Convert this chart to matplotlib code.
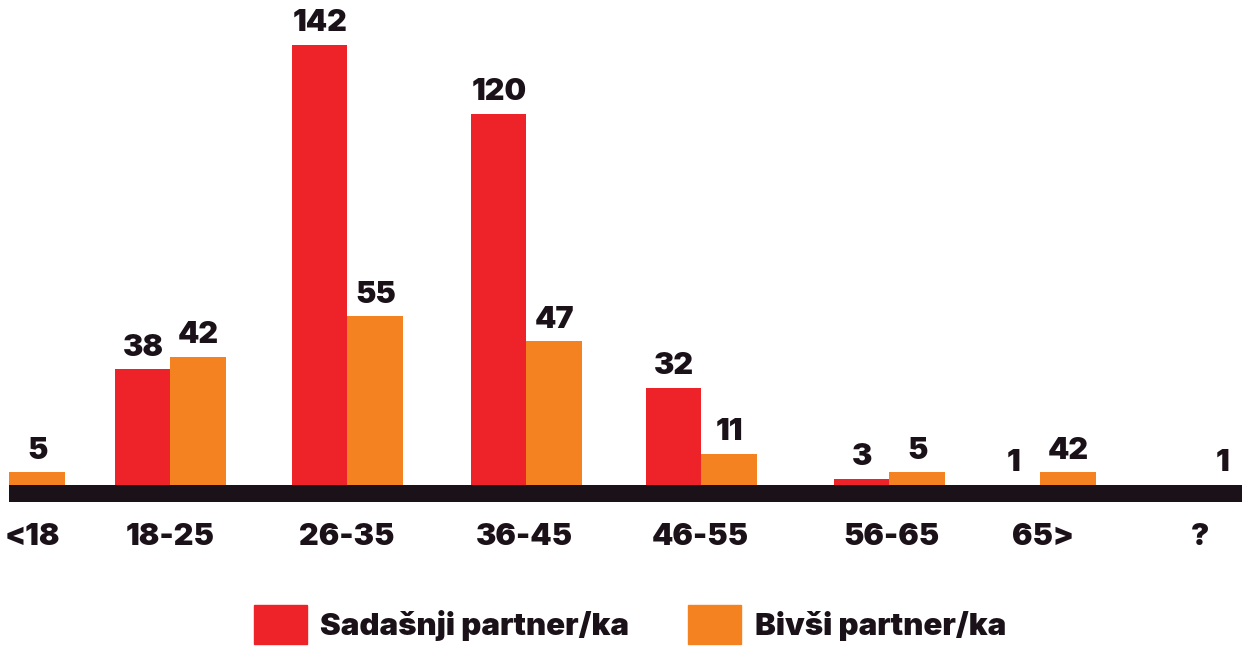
import matplotlib
matplotlib.use('Agg')
import matplotlib.pyplot as plt
from matplotlib.patches import Patch

# age groups and counts
categories = ['<18', '18-25', '26-35', '36-45', '46-55', '56-65', '65>', '?']
sadasnji = [None, 38, 142, 120, 32, 3, 1, None]
bivsi = [5, 42, 55, 47, 11, 5, 42, 1]
# bar heights as drawn in the source (65> orange bar is drawn short)
bivsi_bar = [5, 42, 55, 47, 11, 5, 5, 1]

series_names = ['Sadašnji partner/ka', 'Bivši partner/ka']

RED = '#EE2229'
ORANGE = '#F58220'
DARK = '#1B1219'

# layout (pixel-like x units on a 1242 wide canvas)
centers = [9, 170, 347, 526, 701, 889, 1040, 1194]
label_x = [32, 170, 347, 524, 700, 891, 1043, 1200]
w = 55.5

plt.rcParams['font.family'] = ['Inter', 'DejaVu Sans']
fig = plt.figure(figsize=(12.42, 6.49), dpi=100)
ax = fig.add_axes([0, 0, 1, 1])
ax.set_xlim(0, 1242)
ax.set_ylim(-51.6, 156.4)
ax.axis('off')

fs = 22
for i, c in enumerate(categories):
    x0 = centers[i]
    if sadasnji[i] is not None:
        ax.bar(x0 - w / 2, sadasnji[i], width=w, color=RED, zorder=2)
        ax.text(x0 - w / 2 + 1, max(sadasnji[i], 1) + 2.5, str(sadasnji[i]),
                ha='center', va='bottom', fontsize=fs, fontweight='black', color=DARK)
    if bivsi[i] is not None:
        ax.bar(x0 + w / 2, bivsi_bar[i], width=w, color=ORANGE, zorder=2)
        ax.text(x0 + w / 2 + 1, max(bivsi_bar[i], 1) + 2.5, str(bivsi[i]),
                ha='center', va='bottom', fontsize=fs, fontweight='black', color=DARK)
    ax.text(label_x[i], -15.7, c, ha='center', va='center',
            fontsize=fs, fontweight='black', color=DARK)

# thick baseline
ax.fill_between([9, 1242], -4.5, 1, color=DARK, zorder=3, linewidth=0)

handles = [Patch(color=RED), Patch(color=ORANGE)]
fig.legend(handles, series_names, loc='center', bbox_to_anchor=(0.507, 0.038),
           ncol=2, frameon=False, handlelength=1.7, handleheight=1.55,
           handletextpad=0.42, columnspacing=1.9,
           prop={'size': 22.5, 'weight': 'black'}, labelcolor=DARK)

fig.savefig('out.png', dpi=100)
